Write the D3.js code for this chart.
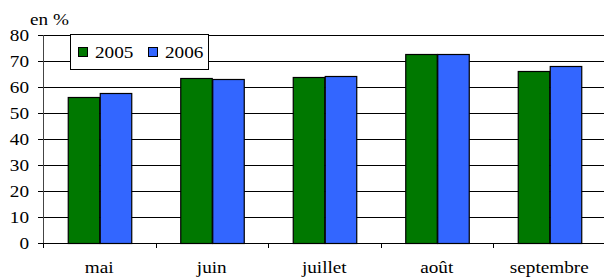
<!DOCTYPE html>
<html lang="fr">
<head>
<meta charset="UTF-8">
<title>en %</title>
<script src="https://d3js.org/d3.v7.min.js"></script>
<style>
  body { margin: 0; background: #fff; overflow: hidden; }
</style>
</head>
<body>
<svg id="chart" width="604" height="277"></svg>
<script>
// --- données ---
const months = ["mai", "juin", "juillet", "août", "septembre"];
const years = ["2005", "2006"];
const values2005 = [56, 63.6, 63.7, 72.7, 66.3];
const values2006 = [57.8, 63, 64.3, 72.7, 68.2];
const yTicks = [0, 10, 20, 30, 40, 50, 60, 70, 80];
const colors = ["#007800", "#3366ff"];

const svg = d3.select("#chart");
const plotLeft = 43, plotTop = 35, plotBottom = 243, plotRight = 605.5;

const x = d3.scaleBand().domain(months).range([plotLeft, plotRight])
  .paddingInner(0.44).paddingOuter(0.22);
const x1 = d3.scaleBand().domain(years).range([0, x.bandwidth()]);
const y = d3.scaleLinear().domain([0, 80]).range([plotBottom, plotTop]);

// texte serif, étiré horizontalement (position passée par transform)
function label(parent, px, py, txt, anchor) {
  return parent.append("text")
    .attr("transform", `translate(${px},${py}) scale(1.2,1)`)
    .attr("font-family", "Liberation Serif")
    .attr("font-size", 16)
    .attr("fill", "#000")
    .attr("text-anchor", anchor || "start")
    .text(txt);
}

// quadrillage
svg.append("g").selectAll("line")
  .data(yTicks.filter(d => d > 0))
  .join("line")
  .attr("x1", plotLeft).attr("x2", 604)
  .attr("y1", d => Math.round(y(d)) + 0.5).attr("y2", d => Math.round(y(d)) + 0.5)
  .attr("stroke", "#000").attr("stroke-width", 1);

// barres
const series = [values2005, values2006];
const groups = svg.append("g").selectAll("g")
  .data(months)
  .join("g")
  .attr("transform", d => `translate(${x(d)},0)`);

groups.selectAll("rect")
  .data((m, i) => years.map((yr, k) => ({ yr, k, v: series[k][i] })))
  .join("rect")
  .attr("x", d => Math.round(x1(d.yr)) + 0.5)
  .attr("y", d => Math.round(y(d.v)) + 0.5)
  .attr("width", x1.bandwidth())
  .attr("height", d => plotBottom - Math.round(y(d.v)))
  .attr("fill", d => colors[d.k])
  .attr("stroke", "#000").attr("stroke-width", 1.2);

// axe Y
svg.append("line")
  .attr("x1", plotLeft + 0.5).attr("x2", plotLeft + 0.5)
  .attr("y1", plotTop).attr("y2", plotBottom + 1)
  .attr("stroke", "#444");
svg.append("g").selectAll("line")
  .data(yTicks)
  .join("line")
  .attr("x1", plotLeft - 5).attr("x2", plotLeft)
  .attr("y1", d => Math.round(y(d)) + 0.5).attr("y2", d => Math.round(y(d)) + 0.5)
  .attr("stroke", "#000");
const yLabels = svg.append("g");
yTicks.forEach(t => label(yLabels, 29, y(t) + 5.5, t, "end"));

label(svg, 30, 25, "en %");

// axe X
svg.append("line")
  .attr("x1", plotLeft).attr("x2", 604)
  .attr("y1", plotBottom + 0.5).attr("y2", plotBottom + 0.5)
  .attr("stroke", "#000");
const step = x.step();
svg.append("g").selectAll("line")
  .data(months)
  .join("line")
  .attr("x1", d => Math.round(x(d) - step * 0.22) + 0.5)
  .attr("x2", d => Math.round(x(d) - step * 0.22) + 0.5)
  .attr("y1", plotBottom).attr("y2", plotBottom + 5)
  .attr("stroke", "#000");
const xLabels = svg.append("g");
months.forEach(m => label(xLabels, x(m) + x.bandwidth() / 2, 273, m, "middle"));

// légende
const legend = svg.append("g");
legend.append("rect")
  .attr("x", 70.5).attr("y", 34.5).attr("width", 138).attr("height", 35)
  .attr("fill", "#fff").attr("stroke", "#000");
years.forEach((yr, k) => {
  const lx = 78 + k * 70;
  legend.append("rect")
    .attr("x", lx + 0.5).attr("y", 47.5).attr("width", 9).attr("height", 9)
    .attr("fill", colors[k]).attr("stroke", "#000");
  label(legend, lx + 17, 57.5, yr);
});
</script>
</body>
</html>
